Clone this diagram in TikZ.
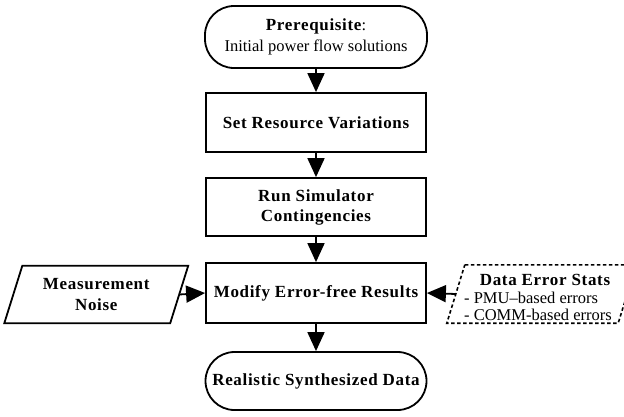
\documentclass[tikz,border=0pt]{standalone}
\usepackage{fontspec}
\setmainfont{Liberation Serif}
\newfontfamily\hfam{Liberation Serif}[LetterSpace=4]
\usetikzlibrary{arrows.meta}
\begin{document}
\begin{tikzpicture}[x=1pt,y=-1pt,
  box/.style={draw,line width=1.8pt,minimum width=220pt,minimum height=59pt,inner sep=2pt,align=center,font=\hfam\bfseries\fontsize{17}{20}\selectfont},
  term/.style={box,rounded corners=29pt},
  plain/.style={inner sep=1pt,font=\fontsize{16.5}{20}\selectfont},
  ttl/.style={inner sep=1pt,font=\hfam\bfseries\fontsize{17}{20}\selectfont},
  arr/.style={line width=1.8pt,-{Triangle[length=19pt,width=17pt]}},
  para/.style={line width=1.8pt},
  dpara/.style={line width=1.6pt,dash pattern=on 3.5pt off 2.5pt}]
\useasboundingbox (0,0) rectangle (624,416);
\node[term,minimum width=222pt,minimum height=62pt,font=\fontsize{16.5}{21}\selectfont] (pre) at (316,37)
  {{\hfam\bfseries\fontsize{17}{21}\selectfont Prerequisite}:\\Initial power flow solutions};
\node[box] (set) at (316,122.5) {Set Resource Variations};
\node[box,minimum height=58pt] (run) at (316,207) {Run Simulator\\Contingencies};
\node[box,minimum height=60pt] (mod) at (316,293) {Modify Error-free Results};
\node[term,minimum width=221pt,minimum height=58pt] (real) at (316,381) {Realistic Synthesized Data};
% measurement noise
\node[minimum width=165.5pt,minimum height=57pt,align=center,inner sep=0pt,font=\hfam\bfseries\fontsize{17}{21}\selectfont] (noise) at (96.25,294.5) {Measurement\\Noise};
\draw[para] ([xshift=9pt]noise.north west) -- ([xshift=9pt]noise.north east) -- ([xshift=-9pt]noise.south east) -- ([xshift=-9pt]noise.south west) -- cycle;
% data error stats
\node[minimum width=171pt,minimum height=58pt,inner sep=0pt] (errs) at (541.5,294) {};
\draw[dpara] ([xshift=9pt]errs.north west) -- ([xshift=9pt]errs.north east) -- ([xshift=-9pt]errs.south east) -- ([xshift=-9pt]errs.south west) -- cycle;
\node[ttl] (et) at (545,280) {Data Error Stats};
\node[plain,anchor=west] (e1) at (463,298) {- PMU–based errors};
\node[plain,anchor=west] (e2) at (463,315) {- COMM-based errors};
% connectors
\draw[arr] (pre) -- (set);
\draw[arr] (set) -- (run);
\draw[arr] (run) -- (mod);
\draw[arr] (mod) -- (real);
\draw[arr] (noise.east) -- (mod.west);
\draw[arr] (errs.west) -- (mod.east);
\end{tikzpicture}
\end{document}
